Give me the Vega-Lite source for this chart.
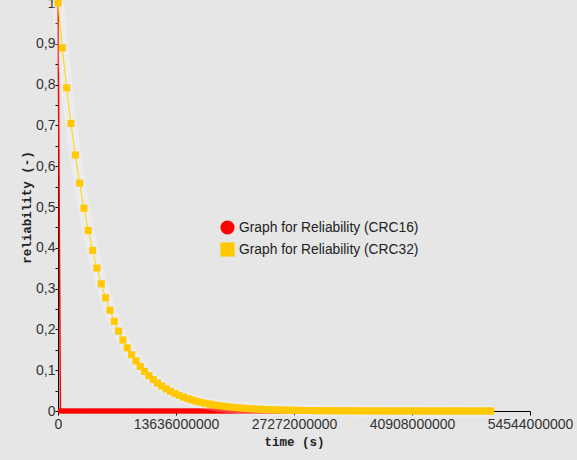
{
  "$schema": "https://vega.github.io/schema/vega-lite/v6.json",
  "autosize": "none",
  "width": 472,
  "height": 408,
  "padding": {"left": 58, "top": 3, "right": 47, "bottom": 49},
  "background": "#e6e6e6",
  "config": {
    "view": {"stroke": null},
    "axis": {"labelFont": "Liberation Sans", "labelFontSize": 14, "labelColor": "#333333", "domainColor": "#000000", "tickColor": "#000000", "grid": false, "titleFont": "Liberation Mono", "titleFontWeight": "bold", "titleFontSize": 12.5, "titleColor": "#222222"}
  },
  "datasets": {
    "crc16": [
      {"t": 0, "r": 1}, {"t": 28e7, "r": 0}, {"t": 56e7, "r": 0}, {"t": 84e7, "r": 0}, {"t": 112e7, "r": 0}, {"t": 140e7, "r": 0}, {"t": 168e7, "r": 0}, {"t": 196e7, "r": 0}, {"t": 224e7, "r": 0}, {"t": 252e7, "r": 0},
      {"t": 280e7, "r": 0}, {"t": 308e7, "r": 0}, {"t": 336e7, "r": 0}, {"t": 364e7, "r": 0}, {"t": 392e7, "r": 0}, {"t": 420e7, "r": 0}, {"t": 448e7, "r": 0}, {"t": 476e7, "r": 0}, {"t": 504e7, "r": 0}, {"t": 532e7, "r": 0},
      {"t": 560e7, "r": 0}, {"t": 588e7, "r": 0}, {"t": 616e7, "r": 0}, {"t": 644e7, "r": 0}, {"t": 672e7, "r": 0}, {"t": 700e7, "r": 0}, {"t": 728e7, "r": 0}, {"t": 756e7, "r": 0}, {"t": 784e7, "r": 0}, {"t": 812e7, "r": 0},
      {"t": 840e7, "r": 0}, {"t": 868e7, "r": 0}, {"t": 896e7, "r": 0}, {"t": 924e7, "r": 0}, {"t": 952e7, "r": 0}, {"t": 980e7, "r": 0}, {"t": 1008e7, "r": 0}, {"t": 1036e7, "r": 0}, {"t": 1064e7, "r": 0}, {"t": 1092e7, "r": 0},
      {"t": 1120e7, "r": 0}, {"t": 1148e7, "r": 0}, {"t": 1176e7, "r": 0}, {"t": 1204e7, "r": 0}, {"t": 1232e7, "r": 0}, {"t": 1260e7, "r": 0}, {"t": 1288e7, "r": 0}, {"t": 1316e7, "r": 0}, {"t": 1344e7, "r": 0}, {"t": 1372e7, "r": 0},
      {"t": 1400e7, "r": 0}, {"t": 1428e7, "r": 0}, {"t": 1456e7, "r": 0}, {"t": 1484e7, "r": 0}, {"t": 1512e7, "r": 0}, {"t": 1540e7, "r": 0}, {"t": 1568e7, "r": 0}, {"t": 1596e7, "r": 0}, {"t": 1624e7, "r": 0}, {"t": 1652e7, "r": 0},
      {"t": 1680e7, "r": 0}, {"t": 1708e7, "r": 0}, {"t": 1736e7, "r": 0}, {"t": 1764e7, "r": 0}, {"t": 1792e7, "r": 0}, {"t": 1820e7, "r": 0}, {"t": 1848e7, "r": 0}, {"t": 1876e7, "r": 0}, {"t": 1904e7, "r": 0}, {"t": 1932e7, "r": 0},
      {"t": 1960e7, "r": 0}, {"t": 1988e7, "r": 0}, {"t": 2016e7, "r": 0}, {"t": 2044e7, "r": 0}, {"t": 2072e7, "r": 0}, {"t": 2100e7, "r": 0}, {"t": 2128e7, "r": 0}, {"t": 2156e7, "r": 0}, {"t": 2184e7, "r": 0}, {"t": 2212e7, "r": 0},
      {"t": 2240e7, "r": 0}, {"t": 2268e7, "r": 0}, {"t": 2296e7, "r": 0}, {"t": 2324e7, "r": 0}, {"t": 2352e7, "r": 0}, {"t": 2380e7, "r": 0}, {"t": 2408e7, "r": 0}, {"t": 2436e7, "r": 0}, {"t": 2464e7, "r": 0}, {"t": 2492e7, "r": 0},
      {"t": 2520e7, "r": 0}, {"t": 2548e7, "r": 0}, {"t": 2576e7, "r": 0}, {"t": 2604e7, "r": 0}, {"t": 2632e7, "r": 0}, {"t": 2660e7, "r": 0}, {"t": 2688e7, "r": 0}, {"t": 2716e7, "r": 0}, {"t": 2744e7, "r": 0}, {"t": 2772e7, "r": 0},
      {"t": 2800e7, "r": 0}
    ],
    "crc32": [
      {"t": 0, "r": 1}, {"t": 5e8, "r": 0.89}, {"t": 10e8, "r": 0.7921}, {"t": 15e8, "r": 0.705}, {"t": 20e8, "r": 0.6274}, {"t": 25e8, "r": 0.5584}, {"t": 30e8, "r": 0.497}, {"t": 35e8, "r": 0.4423}, {"t": 40e8, "r": 0.3937}, {"t": 45e8, "r": 0.3504},
      {"t": 50e8, "r": 0.3118}, {"t": 55e8, "r": 0.2775}, {"t": 60e8, "r": 0.247}, {"t": 65e8, "r": 0.2198}, {"t": 70e8, "r": 0.1956}, {"t": 75e8, "r": 0.1741}, {"t": 80e8, "r": 0.155}, {"t": 85e8, "r": 0.1379}, {"t": 90e8, "r": 0.1227}, {"t": 95e8, "r": 0.1092},
      {"t": 100e8, "r": 0.0972}, {"t": 105e8, "r": 0.0865}, {"t": 110e8, "r": 0.077}, {"t": 115e8, "r": 0.0685}, {"t": 120e8, "r": 0.061}, {"t": 125e8, "r": 0.0543}, {"t": 130e8, "r": 0.0483}, {"t": 135e8, "r": 0.043}, {"t": 140e8, "r": 0.0383}, {"t": 145e8, "r": 0.034},
      {"t": 150e8, "r": 0.0303}, {"t": 155e8, "r": 0.027}, {"t": 160e8, "r": 0.024}, {"t": 165e8, "r": 0.0214}, {"t": 170e8, "r": 0.019}, {"t": 175e8, "r": 0.0169}, {"t": 180e8, "r": 0.0151}, {"t": 185e8, "r": 0.0134}, {"t": 190e8, "r": 0.0119}, {"t": 195e8, "r": 0.0106},
      {"t": 200e8, "r": 0.0095}, {"t": 205e8, "r": 0.0084}, {"t": 210e8, "r": 0.0075}, {"t": 215e8, "r": 0.0067}, {"t": 220e8, "r": 0.0059}, {"t": 225e8, "r": 0.0053}, {"t": 230e8, "r": 0.0047}, {"t": 235e8, "r": 0.0042}, {"t": 240e8, "r": 0.0037}, {"t": 245e8, "r": 0.0033},
      {"t": 250e8, "r": 0.0029}, {"t": 255e8, "r": 0.0026}, {"t": 260e8, "r": 0.0023}, {"t": 265e8, "r": 0.0021}, {"t": 270e8, "r": 0.0019}, {"t": 275e8, "r": 0.0016}, {"t": 280e8, "r": 0.0015}, {"t": 285e8, "r": 0.0013}, {"t": 290e8, "r": 0.0012}, {"t": 295e8, "r": 0.001},
      {"t": 300e8, "r": 0.0009}, {"t": 305e8, "r": 0.0008}, {"t": 310e8, "r": 0.0007}, {"t": 315e8, "r": 0.0007}, {"t": 320e8, "r": 0.0006}, {"t": 325e8, "r": 0.0005}, {"t": 330e8, "r": 0.0005}, {"t": 335e8, "r": 0.0004}, {"t": 340e8, "r": 0.0004}, {"t": 345e8, "r": 0.0003},
      {"t": 350e8, "r": 0.0003}, {"t": 355e8, "r": 0.0003}, {"t": 360e8, "r": 0.0002}, {"t": 365e8, "r": 0.0002}, {"t": 370e8, "r": 0.0002}, {"t": 375e8, "r": 0.0002}, {"t": 380e8, "r": 0.0001}, {"t": 385e8, "r": 0.0001}, {"t": 390e8, "r": 0.0001}, {"t": 395e8, "r": 0.0001},
      {"t": 400e8, "r": 0.0001}, {"t": 405e8, "r": 0.0001}, {"t": 410e8, "r": 0.0001}, {"t": 415e8, "r": 0.0001}, {"t": 420e8, "r": 0.0001}, {"t": 425e8, "r": 0}, {"t": 430e8, "r": 0}, {"t": 435e8, "r": 0}, {"t": 440e8, "r": 0}, {"t": 445e8, "r": 0},
      {"t": 450e8, "r": 0}, {"t": 455e8, "r": 0}, {"t": 460e8, "r": 0}, {"t": 465e8, "r": 0}, {"t": 470e8, "r": 0}, {"t": 475e8, "r": 0}, {"t": 480e8, "r": 0}, {"t": 485e8, "r": 0}, {"t": 490e8, "r": 0}, {"t": 495e8, "r": 0},
      {"t": 500e8, "r": 0}
    ]
  },
  "encoding": {
    "x": {"field": "t", "type": "quantitative", "title": "time (s)",
      "scale": {"domain": [0, 54544000000], "nice": false, "zero": true},
      "axis": {"values": [0, 13636000000, 27272000000, 40908000000, 54544000000], "format": "d", "tickSize": 4, "labelPadding": 2, "titlePadding": 4, "labelFlush": false, "labelOverlap": false}},
    "y": {"field": "r", "type": "quantitative", "title": "reliability (-)",
      "scale": {"domain": [0, 1], "nice": false},
      "axis": {"values": [0, 0.05, 0.1, 0.15, 0.2, 0.25, 0.3, 0.35, 0.4, 0.45, 0.5, 0.55, 0.6, 0.65, 0.7, 0.75, 0.8, 0.85, 0.9, 0.95, 1],
        "labelExpr": "round(datum.value*20)%2==0 ? replace(format(datum.value,'.1~f'),'.',',') : ''",
        "tickSize": 3, "labelPadding": 0, "titlePadding": 2, "labelOverlap": false, "labelFlush": false, "labelBound": false}}
  },
  "layer": [
    {"data": {"name": "crc16"}, "mark": {"type": "line", "strokeWidth": 1.5},
      "encoding": {"color": {"datum": "Graph for Reliability (CRC16)", "type": "nominal",
        "scale": {"domain": ["Graph for Reliability (CRC16)", "Graph for Reliability (CRC32)"], "range": ["#ff0000", "#ffc800"]},
        "legend": {"title": null, "orient": "none", "legendX": 162, "legendY": 217, "padding": 0, "symbolSize": 200, "symbolStrokeWidth": 0, "symbolOpacity": 1, "labelFont": "Liberation Sans", "labelFontSize": 13.8, "labelColor": "#222222", "labelOffset": 4, "labelLimit": 0, "rowPadding": 7}}}},
    {"data": {"name": "crc16"}, "mark": {"type": "point", "filled": true, "size": 28, "opacity": 1},
      "encoding": {"color": {"datum": "Graph for Reliability (CRC16)", "type": "nominal"},
        "shape": {"datum": "Graph for Reliability (CRC16)", "type": "nominal", "scale": {"domain": ["Graph for Reliability (CRC16)", "Graph for Reliability (CRC32)"], "range": ["circle", "square"]}}}},
    {"data": {"name": "crc32"}, "mark": {"type": "line", "strokeWidth": 12, "color": "#ffffff", "opacity": 0.25},
      "encoding": {}},
    {"data": {"name": "crc32"}, "mark": {"type": "line", "strokeWidth": 1, "color": "#ffd800"},
      "encoding": {}},
    {"data": {"name": "crc32"}, "mark": {"type": "point", "filled": true, "size": 50, "opacity": 1},
      "encoding": {"color": {"datum": "Graph for Reliability (CRC32)", "type": "nominal"},
        "shape": {"datum": "Graph for Reliability (CRC32)", "type": "nominal"}}}
  ]
}
